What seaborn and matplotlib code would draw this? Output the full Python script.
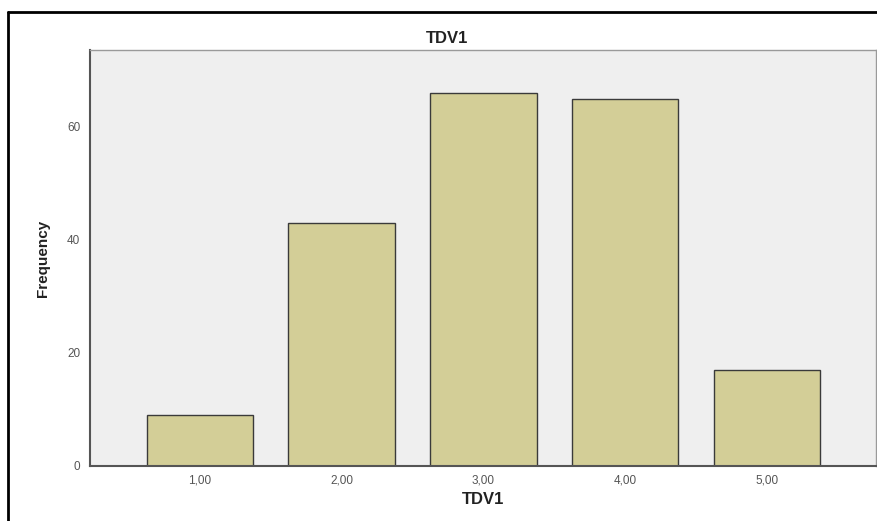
import matplotlib
matplotlib.use("Agg")
import matplotlib.pyplot as plt
import seaborn as sns
import pandas as pd
from matplotlib.lines import Line2D

categories = ["1,00", "2,00", "3,00", "4,00", "5,00"]
frequencies = [9, 43, 66, 65, 17]
yticks = [0, 20, 40, 60]

df = pd.DataFrame({"TDV1": categories, "Frequency": frequencies})

sns.set_theme(style="white")
plt.rcParams['font.family'] = ['Liberation Sans', 'DejaVu Sans']

fig = plt.figure(figsize=(8.77, 5.21), dpi=100)
ax = fig.add_axes([90/877, 55/521, 786/877, 416/521])
ax.set_facecolor("#EFEFEF")

sns.barplot(data=df, x="TDV1", y="Frequency", color="#D3CE97", saturation=1,
            width=0.75, edgecolor="#3A3A3A", linewidth=1.0, ax=ax)

ax.set_xlim(-0.775, 4.77)
ax.set_ylim(0, 73.6)
ax.set_yticks(yticks)
ax.set_yticklabels([str(v) for v in yticks])

for s in ["top", "right"]:
    ax.spines[s].set_color("#9A9A9A")
    ax.spines[s].set_linewidth(1.0)
for s in ["left", "bottom"]:
    ax.spines[s].set_color("#555555")
    ax.spines[s].set_linewidth(1.5)

ax.tick_params(axis="both", which="both", length=5, width=1.2, color="#555555",
               labelsize=8.5, labelcolor="#555555", pad=2, direction="out")
ax.tick_params(axis="x", length=4)

fig.text(447/877, 1 - 43/521, "TDV1", ha="center", va="baseline",
         fontsize=12, fontweight="bold", color="#222222")
ax.set_xlabel("TDV1", fontsize=12, fontweight="bold", color="#222222", labelpad=4)
ax.set_ylabel("Frequency", fontsize=11, fontweight="bold", color="#222222",
              labelpad=12)

# outer frame lines (top and left)
fig.add_artist(Line2D([7.5/877, 1.0], [1 - 12/521, 1 - 12/521], transform=fig.transFigure,
                      color="black", linewidth=2))
fig.add_artist(Line2D([7.5/877, 7.5/877], [0, 1 - 12/521], transform=fig.transFigure,
                      color="black", linewidth=2))

fig.savefig("out.png", dpi=100)
